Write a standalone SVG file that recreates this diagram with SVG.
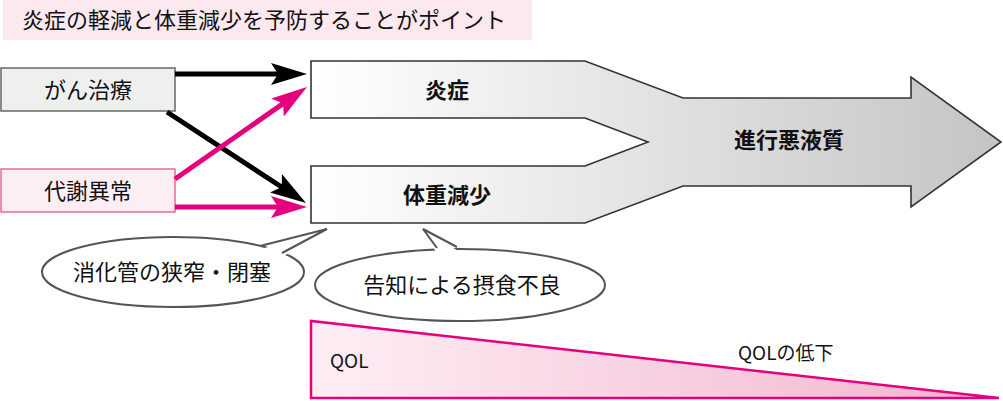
<svg xmlns="http://www.w3.org/2000/svg" width="1003" height="401" viewBox="0 0 1003 401">
<style>
text{font-family:"Noto Sans CJK JP","Noto Sans",sans-serif;fill:#111;}
.n{font-size:22px;text-anchor:middle;}
.b{font-size:22px;font-weight:bold;text-anchor:middle;}
.bub{fill:#fff;stroke:#555;stroke-width:2;}
.tail{fill:none;stroke:#555;stroke-width:2;stroke-linejoin:miter;}
.ab{stroke:#000;stroke-width:5;fill:none;}
.ap{stroke:#e4007f;stroke-width:5;fill:none;}
</style>
<defs>
<linearGradient id="g1" x1="311" y1="0" x2="1001" y2="0" gradientUnits="userSpaceOnUse">
<stop offset="0" stop-color="#ffffff"/><stop offset="1" stop-color="#c4c4c4"/>
</linearGradient>
<linearGradient id="g2" x1="311" y1="0" x2="1000" y2="0" gradientUnits="userSpaceOnUse">
<stop offset="0" stop-color="#fdeef4"/><stop offset="1" stop-color="#f2b3ce"/>
</linearGradient>
<marker id="mb" viewBox="0 0 36 22" refX="16" refY="11" markerWidth="36" markerHeight="22" markerUnits="userSpaceOnUse" orient="auto">
<path d="M0,0 L36,11 L0,22 L7,11 Z" fill="#000"/>
</marker>
<marker id="mp" viewBox="0 0 36 22" refX="16" refY="11" markerWidth="36" markerHeight="22" markerUnits="userSpaceOnUse" orient="auto">
<path d="M0,0 L36,11 L0,22 L7,11 Z" fill="#e4007f"/>
</marker>
</defs>
<rect width="1003" height="401" fill="#fff"/>
<g id="title">
<rect x="3" y="0" width="529" height="40" fill="#fce9ef"/>
<text x="22" y="28" style="font-size:22px">炎症の軽減と体重減少を予防することがポイント</text>
</g>
<g id="main-arrow">
<path d="M311,61 L585,61 L683,98 L911,98 L911,77 L1001,142 L911,207 L911,186 L683,186 L585,223 L311,223 L311,166 L585,166 L648,142 L585,118 L311,118 Z" fill="url(#g1)" stroke="#333" stroke-width="1.6"/>
<text class="b" x="447" y="98">炎症</text>
<text class="b" x="447" y="203">体重減少</text>
<text class="b" x="789" y="148">進行悪液質</text>
</g>
<g id="node-cancer">
<rect x="1" y="68" width="174" height="43" fill="#eef0ee" stroke="#666" stroke-width="1.5"/>
<text class="n" x="88" y="98">がん治療</text>
</g>
<g id="node-metab">
<rect x="1" y="169" width="174" height="43" fill="#fdeef3" stroke="#e8699c" stroke-width="1.5"/>
<text class="n" x="88" y="199">代謝異常</text>
</g>
<g id="connectors">
<line class="ab" x1="175" y1="74" x2="287" y2="74" marker-end="url(#mb)"/>
<line class="ab" x1="167" y1="112" x2="289.3" y2="192" marker-end="url(#mb)"/>
<line class="ap" x1="175" y1="179" x2="290.6" y2="98.4" marker-end="url(#mp)"/>
<line class="ap" x1="175" y1="207" x2="287" y2="207" marker-end="url(#mp)"/>
</g>
<g id="bubble-left">
<ellipse class="bub" cx="173" cy="272" rx="131" ry="35"/>
<polygon points="258,250 327,229 284,256" fill="#fff"/>
<polyline class="tail" points="260,246 327,229 282,253"/>
<text class="n" x="172" y="280">消化管の狭窄・閉塞</text>
</g>
<g id="bubble-right">
<ellipse class="bub" cx="460" cy="285" rx="145" ry="36"/>
<polygon points="436,252 423,229 458,251" fill="#fff"/>
<polyline class="tail" points="437,248 423,229 457,247"/>
<text class="n" x="462" y="293">告知による摂食不良</text>
</g>
<g id="qol">
<polygon points="311,321 311,398 999,398" fill="url(#g2)" stroke="#e4007f" stroke-width="2.5" stroke-linejoin="miter"/>
<text x="330" y="368" style="font-size:19px">QOL</text>
<text x="738" y="360" style="font-size:19px">QOLの低下</text>
</g>
</svg>
